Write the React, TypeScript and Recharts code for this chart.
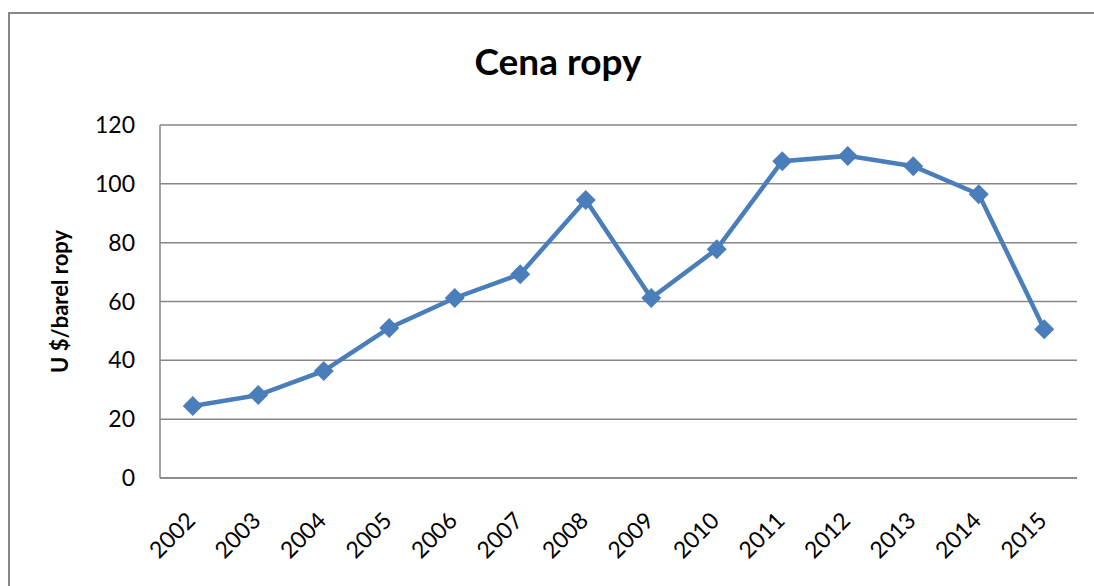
import { CartesianGrid, Line, LineChart, XAxis, YAxis } from "recharts";

const YEARS = ["2002", "2003", "2004", "2005", "2006", "2007", "2008", "2009", "2010", "2011", "2012", "2013", "2014", "2015"];
const PRICES = [24.5, 28.2, 36.4, 51, 61.2, 69.3, 94.5, 61.2, 77.8, 107.7, 109.5, 106, 96.5, 50.6];
const Y_TICKS = [0, 20, 40, 60, 80, 100, 120];

const LINE_COLOR = "#4a7ebb";
const GRID_COLOR = "#868686";
const FONT = "Lato, 'Open Sans', sans-serif";

const data = YEARS.map((year, i) => ({ year, price: PRICES[i] }));

function Diamond(props: { cx?: number; cy?: number; index?: number }) {
  const { cx, cy, index } = props;
  if (cx == null || cy == null) return null;
  const r = 10;
  return (
    <polygon
      key={`d-${index}`}
      points={`${cx},${cy - r} ${cx + r},${cy} ${cx},${cy + r} ${cx - r},${cy}`}
      fill={LINE_COLOR}
    />
  );
}

function YearTick(props: { x?: number; y?: number; payload?: { value: string } }) {
  const { x = 0, y = 0, payload } = props;
  const tx = x + 4;
  const ty = y + 44;
  return (
    <text
      x={tx}
      y={ty}
      textAnchor="end"
      transform={`rotate(-45, ${tx}, ${ty})`}
      fontSize={23}
      fontFamily={FONT}
      fill="#000"
    >
      {payload?.value}
    </text>
  );
}

export default function App() {
  return (
    <div style={{ position: "absolute", left: 0, top: 0, width: 1094, height: 586, background: "#fff", overflow: "hidden" }}>
      <div
        style={{
          position: "absolute",
          left: 8,
          top: 12,
          width: 1120,
          height: 620,
          border: "2px solid #878787",
          boxSizing: "border-box",
        }}
      />
      <div
        style={{
          position: "absolute",
          left: 358,
          width: 400,
          top: 38,
          textAlign: "center",
          fontFamily: FONT,
          fontWeight: 700,
          fontSize: 37,
          lineHeight: "46px",
          color: "#000",
        }}
      >
        Cena ropy
      </div>
      <div style={{ position: "absolute", left: 0, top: 0 }}>
        <LineChart width={1094} height={586} data={data} margin={{ top: 125, right: 17, bottom: 0, left: 0 }}>
          <CartesianGrid horizontal vertical={false} stroke={GRID_COLOR} strokeWidth={1.5} />
          <XAxis
            dataKey="year"
            height={108}
            interval={0}
            padding={{ left: 32.75, right: 32.75 }}
            tickLine={false}
            tickSize={0}
            tickMargin={0}
            axisLine={{ stroke: GRID_COLOR, strokeWidth: 1.5 }}
            tick={<YearTick />}
          />
          <YAxis
            width={160}
            domain={[0, 120]}
            ticks={Y_TICKS}
            interval={0}
            tickLine={false}
            tickSize={0}
            tickMargin={25}
            axisLine={{ stroke: GRID_COLOR, strokeWidth: 1.5 }}
            tick={{ fontSize: 23, fontFamily: FONT, fill: "#000" }}
            label={{
              value: "U $/barel ropy",
              angle: -90,
              position: "insideLeft",
              offset: 0,
              dx: 60,
              style: { fontSize: 22, fontFamily: FONT, fontWeight: 700, fill: "#000", textAnchor: "middle" },
            }}
          />
          <Line
            type="linear"
            dataKey="price"
            stroke={LINE_COLOR}
            strokeWidth={4.5}
            dot={<Diamond />}
            activeDot={false}
            isAnimationActive={false}
          />
        </LineChart>
      </div>
    </div>
  );
}
